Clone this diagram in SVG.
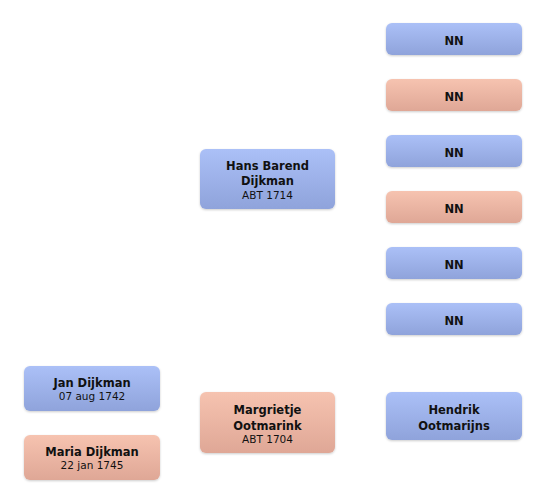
<svg xmlns="http://www.w3.org/2000/svg" width="546" height="504" viewBox="0 0 546 504">
<defs>
<linearGradient id="gm" x1="0" y1="0" x2="0" y2="1"><stop offset="0" stop-color="#abc0f7"/><stop offset="1" stop-color="#8fa3db"/></linearGradient>
<linearGradient id="gf" x1="0" y1="0" x2="0" y2="1"><stop offset="0" stop-color="#f6c3b0"/><stop offset="1" stop-color="#dfa796"/></linearGradient>
<filter id="sh" x="-10%" y="-10%" width="120%" height="130%"><feDropShadow dx="0" dy="1" stdDeviation="1" flood-color="#000" flood-opacity="0.2"/></filter>
</defs>
<style>
.m{fill:url(#gm);filter:url(#sh)}
.f{fill:url(#gf);filter:url(#sh)}
text{font-family:"DejaVu Sans","Liberation Sans",sans-serif;text-anchor:middle;fill:#111}
.n{font-size:11.5px;font-weight:bold}
.d{font-size:10.5px}
</style>
<rect width="546" height="504" fill="#fff"/>
<g id="connectors"/>
<g id="jan"><rect class="m" x="24" y="366" width="136" height="45" rx="6"/><text class="n" x="92" y="387">Jan Dijkman</text><text class="d" x="92" y="400">07 aug 1742</text></g>
<g id="maria"><rect class="f" x="24" y="435" width="136" height="45" rx="6"/><text class="n" x="92" y="456">Maria Dijkman</text><text class="d" x="92" y="469">22 jan 1745</text></g>
<g id="hans"><rect class="m" x="200" y="149" width="135" height="60" rx="6"/><text class="n" x="267.5" y="170">Hans Barend</text><text class="n" x="267.5" y="185">Dijkman</text><text class="d" x="267.5" y="199">ABT 1714</text></g>
<g id="margrietje"><rect class="f" x="200" y="392" width="135" height="61" rx="6"/><text class="n" x="267.5" y="414">Margrietje</text><text class="n" x="267.5" y="430">Ootmarink</text><text class="d" x="267.5" y="443">ABT 1704</text></g>
<g id="nn1"><rect class="m" x="386" y="23" width="136" height="32" rx="6"/><text class="n" x="454" y="45">NN</text></g>
<g id="nn2"><rect class="f" x="386" y="79" width="136" height="32" rx="6"/><text class="n" x="454" y="101">NN</text></g>
<g id="nn3"><rect class="m" x="386" y="135" width="136" height="32" rx="6"/><text class="n" x="454" y="157">NN</text></g>
<g id="nn4"><rect class="f" x="386" y="191" width="136" height="32" rx="6"/><text class="n" x="454" y="213">NN</text></g>
<g id="nn5"><rect class="m" x="386" y="247" width="136" height="32" rx="6"/><text class="n" x="454" y="269">NN</text></g>
<g id="nn6"><rect class="m" x="386" y="303" width="136" height="32" rx="6"/><text class="n" x="454" y="325">NN</text></g>
<g id="hendrik"><rect class="m" x="386" y="392" width="136" height="48" rx="6"/><text class="n" x="454" y="414">Hendrik</text><text class="n" x="454" y="430">Ootmarijns</text></g>
</svg>
